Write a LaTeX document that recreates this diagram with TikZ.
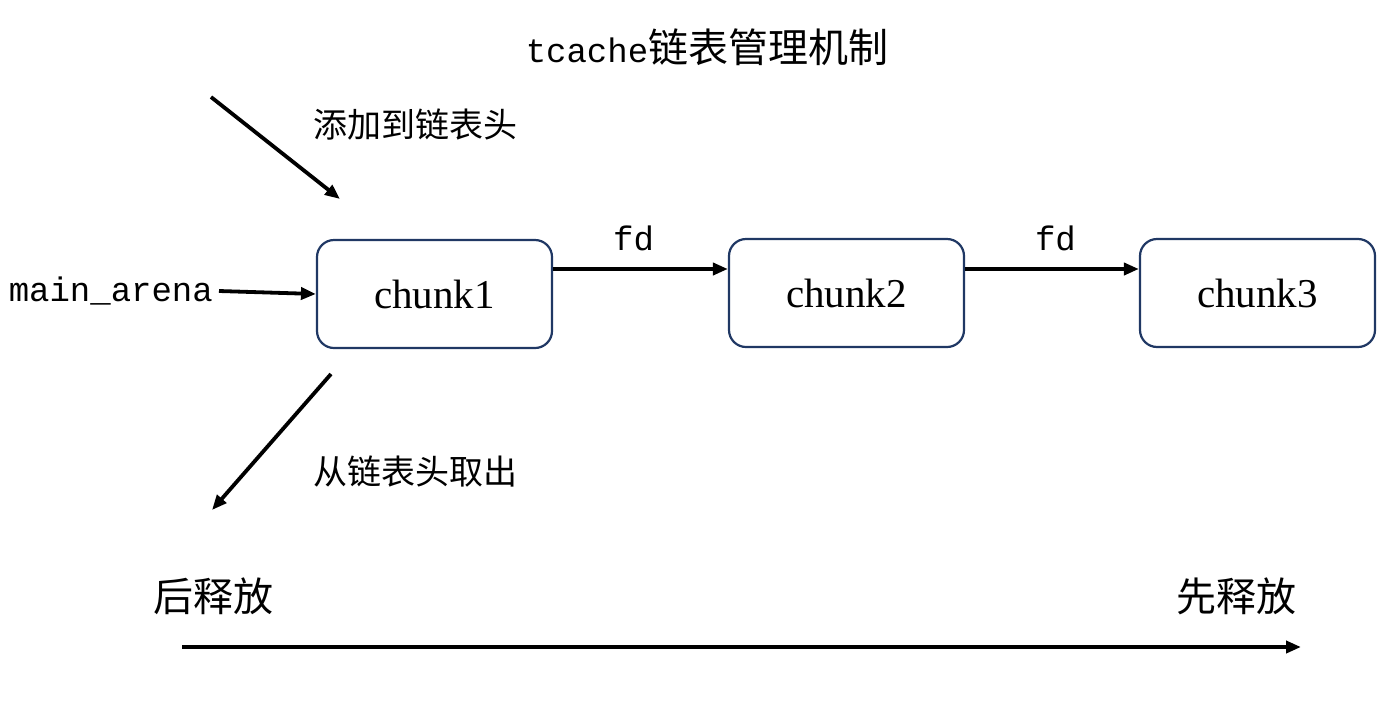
\documentclass[tikz,border=0pt]{standalone}
\usepackage{fontspec}
\setmainfont{Liberation Serif}
\setmonofont{Liberation Mono}
\newfontfamily\cjk{Noto Sans CJK SC}
\usetikzlibrary{arrows.meta,positioning}
\definecolor{navy}{RGB}{32,56,100}
\definecolor{ink}{RGB}{0,0,0}
\tikzset{
  >={Triangle[length=15pt,width=12pt]},
  chunkbox/.style={draw=navy,line width=2.2pt,rounded corners=17pt,fill=white,
    minimum width=235pt,minimum height=108pt,
    font=\fontsize{41}{46}\selectfont},
  flow/.style={->,line width=3.8pt,draw=ink},
  monotag/.style={font=\ttfamily\fontsize{34}{40}\selectfont,inner sep=0pt},
  cjktag/.style={font=\cjk\fontsize{#1}{#1}\selectfont,inner sep=0pt},
  cjktag/.default=34,
}
\begin{document}
\begin{tikzpicture}[x=1pt,y=-1pt]
  \useasboundingbox (0,0) rectangle (1388,710);
  % title
  \node[inner sep=0pt] (title) at (707,47)
    {\ttfamily\fontsize{34}{40}\selectfont tcache{\cjk\fontsize{40}{40}\selectfont 链表管理机制}};
  % chunks
  \foreach \n/\x/\y in {1/434.5/294,2/846.5/293,3/1257.5/293}
    \node[chunkbox] (c\n) at (\x,\y) {chunk\n};
  \node[monotag,anchor=east] (arena) at (213,291) {main\_arena};
  \draw[flow] ([xshift=6pt]arena.east) -- (c1.west);
  \draw[flow] (c1.east |- 0,269) -- node[monotag,above=16pt,pos=0.46] (fd1) {fd} (c2.west |- 0,269);
  \draw[flow] (c2.east |- 0,269) -- node[monotag,above=16pt,pos=0.52] (fd2) {fd} (c3.west |- 0,269);
  % push / pop at the head
  \coordinate (pushfrom) at (211,97);
  \coordinate (pushto) at (340,199);
  \draw[flow] (pushfrom) -- (pushto);
  \node[cjktag,anchor=west] (push) at (313,125) {添加到链表头};
  \coordinate (popfrom) at (331,374);
  \coordinate (popto) at (212,510);
  \draw[flow] (popfrom) -- (popto);
  \node[cjktag,anchor=west] (pop) at (313,472) {从链表头取出};
  % release order
  \node[cjktag=40,anchor=west] (late) at (153,596) {后释放};
  \node[cjktag=40,anchor=east] (early) at (1297,596) {先释放};
  \coordinate (axisfrom) at (182,647);
  \coordinate (axisto) at (1301,647);
  \draw[flow] (axisfrom) -- (axisto);
\end{tikzpicture}
\end{document}
